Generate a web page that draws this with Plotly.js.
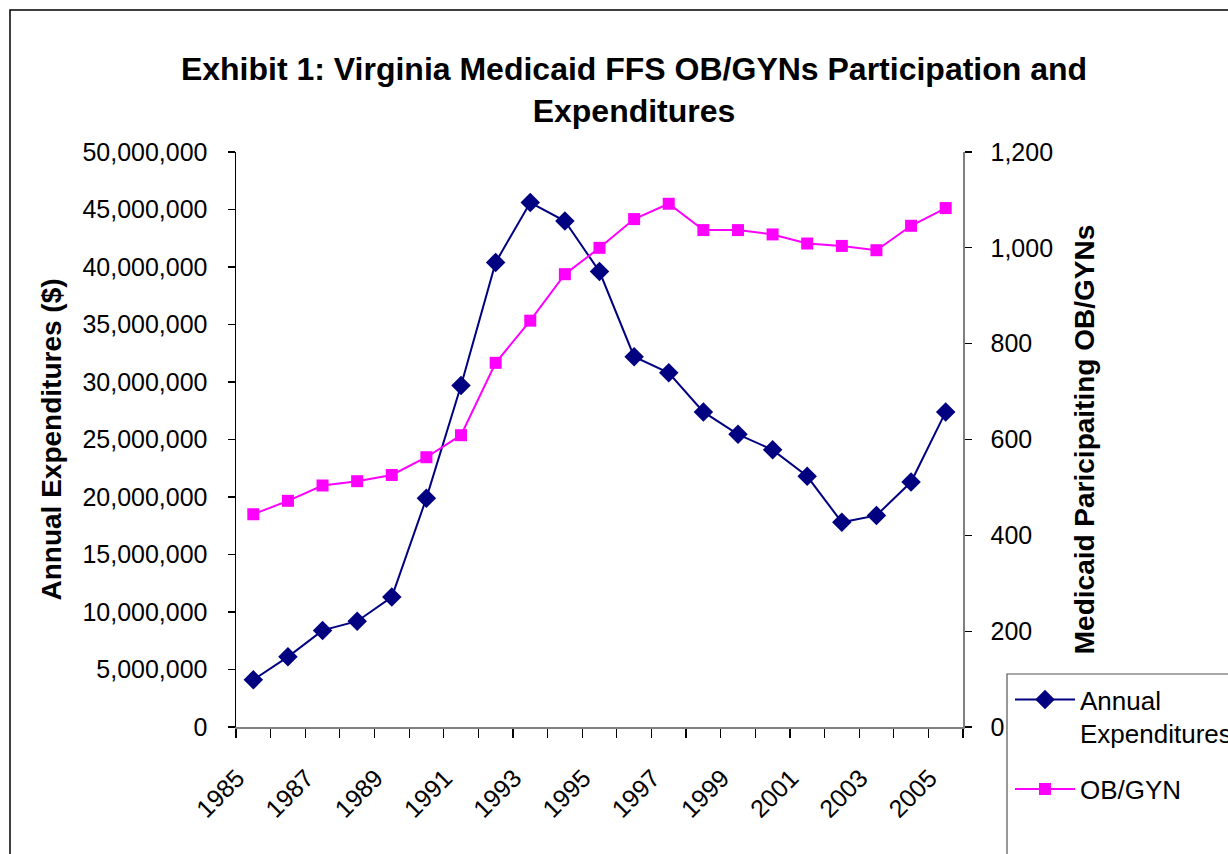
<!DOCTYPE html>
<html>
<head>
<meta charset="utf-8">
<script src="https://cdn.plot.ly/plotly-3.0.1.min.js"></script>
<style>
  html, body { margin: 0; padding: 0; background: #ffffff; }
  #chart { width: 1228px; height: 854px; }
</style>
</head>
<body>
<div id="chart"></div>
<script>
// ---- data ----
const years = [1985, 1986, 1987, 1988, 1989, 1990, 1991, 1992, 1993, 1994, 1995,
               1996, 1997, 1998, 1999, 2000, 2001, 2002, 2003, 2004, 2005];
const annualExpenditures = [4100000, 6100000, 8400000, 9200000, 11300000, 19900000,
  29700000, 40400000, 45600000, 44000000, 39600000, 32200000, 30800000, 27400000,
  25450000, 24100000, 21800000, 17800000, 18400000, 21300000, 27400000];
const obgynCount = [444, 472, 504, 513, 526, 563, 609, 760, 848, 945, 1000,
  1060, 1092, 1037, 1037, 1028, 1009, 1004, 995, 1046, 1083];
const xTickYears = [1985, 1987, 1989, 1991, 1993, 1995, 1997, 1999, 2001, 2003, 2005];
const xTickLabels = ["1985", "1987", "1989", "1991", "1993", "1995", "1997", "1999", "2001", "2003", "2005"];
const seriesNames = ["Annual<br>Expenditures", "OB/GYN"];

const FONT = "Liberation Sans, Arial, sans-serif";

// plot area geometry in pixels
const L = 236, R = 963, T = 152, B = 727, W = 1228, H = 854;
const pw = R - L, ph = B - T;
const px = x => (x - L) / pw;
const py = y => (B - y) / ph;

const traces = [
  {
    x: years, y: annualExpenditures, name: seriesNames[0],
    type: "scatter", mode: "lines+markers", yaxis: "y",
    legendgroup: "a",
    line: { color: "#000080", width: 2 },
    marker: { symbol: "diamond", size: 15, color: "#000080" },
    hoverinfo: "skip"
  },
  {
    x: years, y: obgynCount, name: seriesNames[1],
    type: "scatter", mode: "lines+markers", yaxis: "y2",
    legendgroup: "b",
    line: { color: "#FF00FF", width: 2 },
    marker: { symbol: "square", size: 12, color: "#FF00FF" },
    hoverinfo: "skip"
  }
];

const layout = {
  width: W, height: H,
  margin: { l: L, r: W - R, t: T, b: H - B, pad: 0, autoexpand: false },
  paper_bgcolor: "#ffffff",
  plot_bgcolor: "#ffffff",
  font: { family: FONT, color: "#000000", size: 25 },
  title: {
    text: "<b>Exhibit 1: Virginia Medicaid FFS OB/GYNs Participation and<br>Expenditures</b>",
    font: { family: FONT, size: 32, color: "#000000" },
    x: 634 / W, xanchor: "center", xref: "container",
    y: 1 - 80 / H, yanchor: "middle", yref: "container"
  },
  xaxis: {
    range: [1984.5, 2005.5],
    tickmode: "array", tickvals: xTickYears, ticktext: xTickLabels,
    tickangle: -45,
    ticks: "outside", ticklen: 9, tickcolor: "rgba(0,0,0,0)",
    ticklabelstandoff: 16, ticklabelshift: -16,
    tickfont: { family: FONT, size: 25, color: "#000000" },
    showline: true, linecolor: "#808080", linewidth: 1.5,
    showgrid: false, zeroline: false,
    minor: { ticks: "outside", ticklen: 9, tickcolor: "#000000", tickwidth: 1.2,
             tick0: 1984.5, dtick: 1, showgrid: false },
    fixedrange: true
  },
  yaxis: {
    range: [0, 50000000], dtick: 5000000, tick0: 0,
    tickformat: ",d",
    ticks: "outside", ticklen: 7, tickcolor: "#000000", tickwidth: 1.2,
    ticklabelstandoff: 15,
    tickfont: { family: FONT, size: 25, color: "#000000" },
    showline: true, linecolor: "#000000", linewidth: 1.5,
    showgrid: false, zeroline: false,
    title: { text: "<b>Annual Expenditures ($)</b>",
             font: { family: FONT, size: 28, color: "#000000" }, standoff: 12 },
    fixedrange: true
  },
  yaxis2: {
    range: [0, 1200], dtick: 200, tick0: 0,
    tickformat: ",d",
    overlaying: "y", side: "right",
    ticks: "outside", ticklen: 7, tickcolor: "#000000", tickwidth: 1.2,
    ticklabelstandoff: 14,
    tickfont: { family: FONT, size: 25, color: "#000000" },
    showline: true, linecolor: "#808080", linewidth: 1.5,
    showgrid: false, zeroline: false,
    title: { text: "<b>Medicaid Paricipaiting OB/GYNs</b>",
             font: { family: FONT, size: 28, color: "#000000" }, standoff: 22 },
    fixedrange: true
  },
  showlegend: true,
  legend: {
    x: px(1010), xanchor: "left",
    y: py(676), yanchor: "top",
    bgcolor: "rgba(0,0,0,0)", borderwidth: 0,
    font: { family: FONT, size: 26, color: "#000000" },
    traceorder: "grouped", tracegroupgap: 19,
    valign: "top", itemwidth: 60
  },
  shapes: [
    // outer chart border
    { type: "rect", xref: "paper", yref: "paper",
      x0: px(10), x1: px(1260), y0: py(880), y1: py(10),
      line: { color: "#000000", width: 1.5 }, layer: "below" },
    // legend box
    { type: "rect", xref: "paper", yref: "paper",
      x0: px(1007), x1: px(1260), y0: py(880), y1: py(674),
      line: { color: "#555555", width: 1.2 }, layer: "below" }
  ]
};

Plotly.newPlot("chart", traces, layout, { displayModeBar: false, staticPlot: true });
</script>
</body>
</html>
